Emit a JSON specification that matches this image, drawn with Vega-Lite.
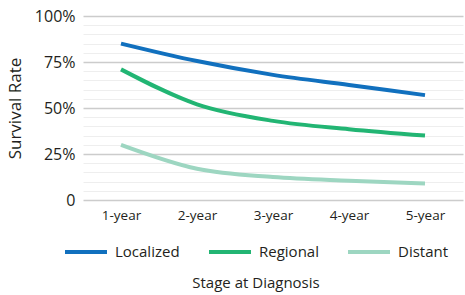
{
  "$schema": "https://vega.github.io/schema/vega-lite/v6.json",
  "width": 380,
  "height": 184,
  "autosize": {"type": "none"},
  "padding": {"left": 83, "top": 16, "right": 2, "bottom": 95},
  "background": "white",
  "config": {
    "font": "Open Sans",
    "view": {"stroke": null}
  },
  "data": {
    "values": [
      {"year": "1-year", "stage": "Localized", "rate": 85},
      {"year": "2-year", "stage": "Localized", "rate": 75.5},
      {"year": "3-year", "stage": "Localized", "rate": 68},
      {"year": "4-year", "stage": "Localized", "rate": 62.5},
      {"year": "5-year", "stage": "Localized", "rate": 57},
      {"year": "1-year", "stage": "Regional", "rate": 71},
      {"year": "2-year", "stage": "Regional", "rate": 52},
      {"year": "3-year", "stage": "Regional", "rate": 43},
      {"year": "4-year", "stage": "Regional", "rate": 38.5},
      {"year": "5-year", "stage": "Regional", "rate": 35},
      {"year": "1-year", "stage": "Distant", "rate": 30},
      {"year": "2-year", "stage": "Distant", "rate": 17},
      {"year": "3-year", "stage": "Distant", "rate": 12.5},
      {"year": "4-year", "stage": "Distant", "rate": 10.5},
      {"year": "5-year", "stage": "Distant", "rate": 9}
    ]
  },
  "mark": {"type": "line", "strokeWidth": 4, "interpolate": "monotone"},
  "encoding": {
    "x": {
      "field": "year",
      "type": "ordinal",
      "scale": {"type": "point", "padding": 0.5},
      "axis": {
        "title": null,
        "domain": false,
        "ticks": false,
        "labelAngle": 0,
        "labelFontSize": 13.5,
        "labelColor": "#231f20",
        "labelPadding": 8
      }
    },
    "y": {
      "field": "rate",
      "type": "quantitative",
      "scale": {"domain": [0, 100]},
      "axis": {
        "title": "Survival Rate",
        "titleFontSize": 17,
        "titleFontWeight": "normal",
        "titleColor": "#231f20",
        "titlePadding": 10,
        "values": [0,5,10,15,20,25,30,35,40,45,50,55,60,65,70,75,80,85,90,95,100],
        "labelExpr": "datum.value % 25 === 0 ? (datum.value === 0 ? '0' : datum.value + '%') : ''",
        "labelFontSize": 16,
        "labelColor": "#231f20",
        "labelPadding": 8,
        "domain": false,
        "ticks": false,
        "gridColor": {"condition": {"test": "datum.value % 25 === 0", "value": "#cccccc"}, "value": "#eeeeee"},
        "gridWidth": {"condition": {"test": "datum.value % 25 === 0", "value": 1.5}, "value": 1}
      }
    },
    "color": {
      "field": "stage",
      "type": "nominal",
      "sort": ["Localized", "Regional", "Distant"],
      "scale": {"domain": ["Localized", "Regional", "Distant"], "range": ["#1170be", "#22b573", "#9dd6c1"]},
      "legend": {
        "title": "Stage at Diagnosis",
        "orient": "none",
        "legendX": -20,
        "legendY": 213,
        "direction": "horizontal",
        "titleOrient": "bottom",
        "titleAnchor": "middle",
        "titleFontSize": 15,
        "titleFontWeight": "normal",
        "titleColor": "#231f20",
        "titlePadding": 16,
        "labelFontSize": 15,
        "labelColor": "#231f20",
        "labelOffset": 6,
        "symbolType": "stroke",
        "symbolSize": 1764,
        "symbolStrokeWidth": 4,
        "columnPadding": 21
      }
    }
  }
}
